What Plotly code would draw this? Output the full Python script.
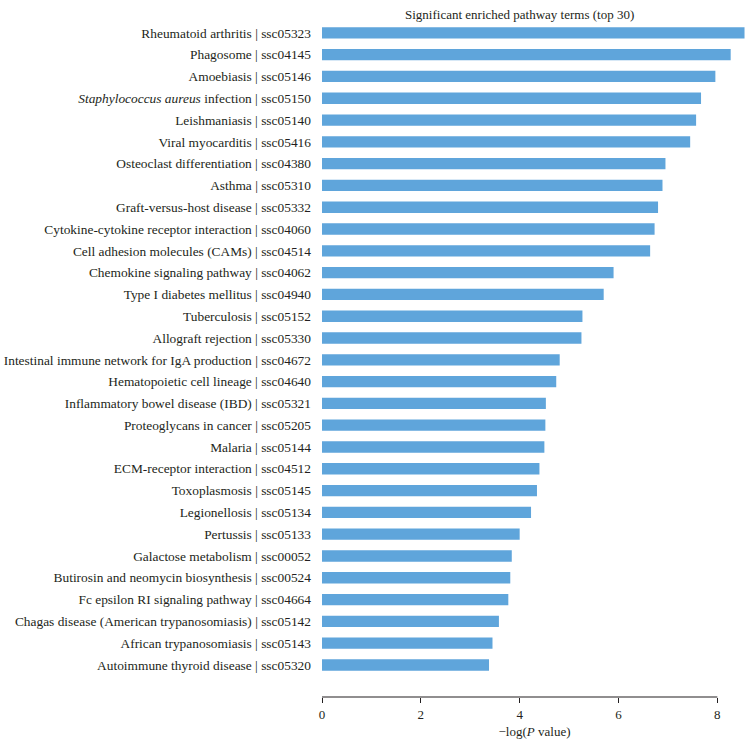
import plotly.graph_objects as go

pathways = [
    "Rheumatoid arthritis | ssc05323",
    "Phagosome | ssc04145",
    "Amoebiasis | ssc05146",
    "<i>Staphylococcus aureus</i> infection | ssc05150",
    "Leishmaniasis | ssc05140",
    "Viral myocarditis | ssc05416",
    "Osteoclast differentiation | ssc04380",
    "Asthma | ssc05310",
    "Graft-versus-host disease | ssc05332",
    "Cytokine-cytokine receptor interaction | ssc04060",
    "Cell adhesion molecules (CAMs) | ssc04514",
    "Chemokine signaling pathway | ssc04062",
    "Type I diabetes mellitus | ssc04940",
    "Tuberculosis | ssc05152",
    "Allograft rejection | ssc05330",
    "Intestinal immune network for IgA production | ssc04672",
    "Hematopoietic cell lineage | ssc04640",
    "Inflammatory bowel disease (IBD) | ssc05321",
    "Proteoglycans in cancer | ssc05205",
    "Malaria | ssc05144",
    "ECM-receptor interaction | ssc04512",
    "Toxoplasmosis | ssc05145",
    "Legionellosis | ssc05134",
    "Pertussis | ssc05133",
    "Galactose metabolism | ssc00052",
    "Butirosin and neomycin biosynthesis | ssc00524",
    "Fc epsilon RI signaling pathway | ssc04664",
    "Chagas disease (American trypanosomiasis) | ssc05142",
    "African trypanosomiasis | ssc05143",
    "Autoimmune thyroid disease | ssc05320",
]
neg_log_p = [
    8.55, 8.27, 7.96, 7.67, 7.57, 7.45, 6.95, 6.89, 6.80, 6.73,
    6.64, 5.90, 5.70, 5.27, 5.25, 4.81, 4.74, 4.53, 4.52, 4.50,
    4.40, 4.35, 4.23, 4.00, 3.84, 3.81, 3.77, 3.58, 3.45, 3.38,
]
x_ticks = [0, 2, 4, 6, 8]
title_text = "Significant enriched pathway terms (top 30)"
x_title = "\u2212log(<i>P</i> value)"

# bottom-to-top order for plotting
cats = pathways[::-1]
vals = neg_log_p[::-1]

FONT = "Liberation Serif, Times New Roman, serif"

fig = go.Figure(go.Bar(
    x=vals, y=cats, orientation="h",
    marker=dict(color="#5fa5db", line=dict(width=0)),
    width=0.52,
))

fig.update_layout(
    width=753, height=747,
    margin=dict(l=322, r=6, t=20, b=50, autoexpand=False),
    plot_bgcolor="white", paper_bgcolor="white",
    font=dict(family=FONT, size=13, color="#231f20"),
    showlegend=False,
)
fig.update_xaxes(
    range=[0, 8.6], tickvals=x_ticks, ticktext=[str(v) for v in x_ticks],
    showgrid=False, zeroline=False, showline=False,
    ticks="outside", ticklen=5, tickwidth=1, tickcolor="#231f20",
    tickfont=dict(size=13), automargin=False,
    title=dict(text=x_title, standoff=6, font=dict(size=13)),
)
fig.update_yaxes(
    type="category", categoryorder="array", categoryarray=cats,
    range=[-1.47, 29.59], automargin=False,
    showgrid=False, zeroline=False, showline=False, ticks="",
    ticklabelstandoff=10, tickfont=dict(size=13.4),
)
# axis baseline spanning only 0..8
fig.add_shape(type="line", xref="x", yref="paper", x0=0, x1=8, y0=0, y1=0,
              line=dict(color="#231f20", width=1.2))
fig.add_annotation(text=title_text, xref="x", yref="paper", x=4, y=1,
                   yshift=6, showarrow=False, yanchor="middle",
                   font=dict(family=FONT, size=13))

fig.write_html(
    "out.html",
    config={"displayModeBar": False},
    post_script="document.body.style.margin='0';document.body.style.overflow='hidden';",
)
